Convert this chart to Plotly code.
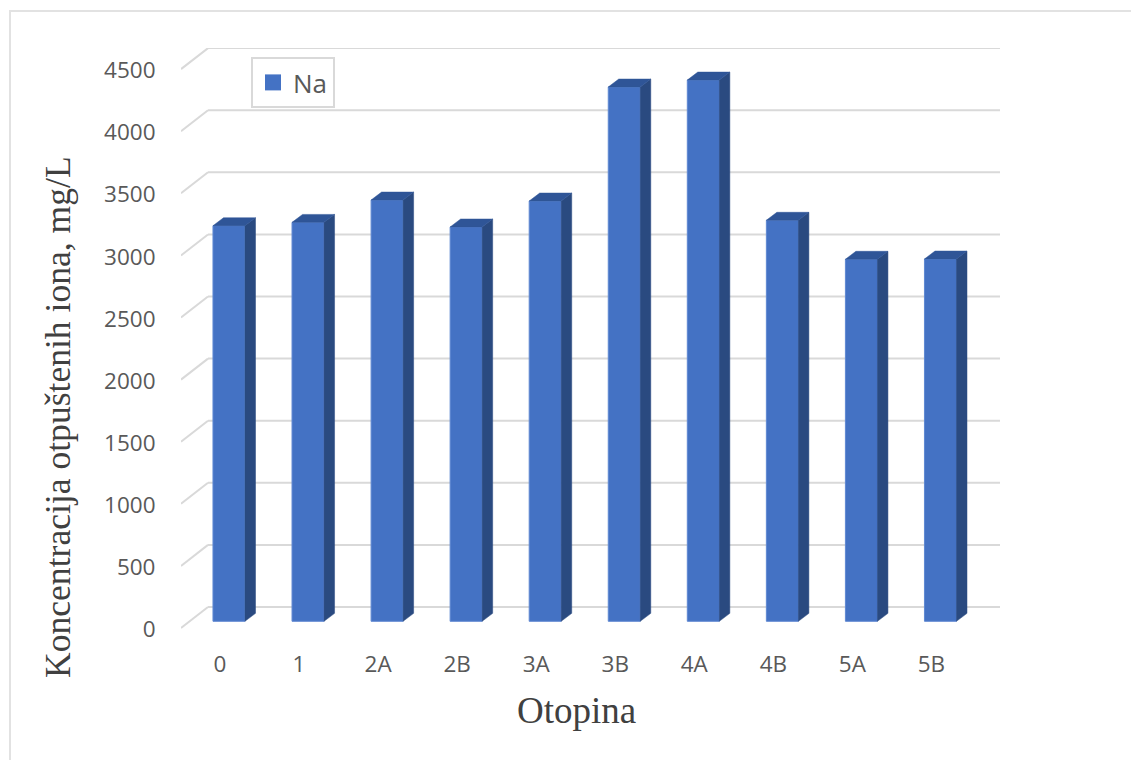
import plotly.graph_objects as go

categories = ["0", "1", "2A", "2B", "3A", "3B", "4A", "4B", "5A", "5B"]
na_values = [3185, 3212, 3392, 3175, 3384, 4302, 4358, 3229, 2915, 2917]
y_ticks = [0, 500, 1000, 1500, 2000, 2500, 3000, 3500, 4000, 4500]

W, H = 1131, 760
L, R, T, B = 181, 131, 48, 130
X_RANGE = [-0.607, 9.753]
Y_RANGE = [-16.1, 4670]

# pseudo-3D geometry, in axis units
BAR_W = 0.405
BAR_LIFT = 54
BAR_DX = 0.133
BAR_DY = 64
WALL_DX = 0.3416
WALL_DY = 169
TICK_SHIFT = -0.114
LABEL_SHIFT = -10

idx = list(range(len(categories)))
BLUE, SIDE, TOP = "#4472c4", "#2a4a80", "#2f5597"
GRID = "#d9d9d9"

side_x, side_y, top_x, top_y = [], [], [], []
for i, v in zip(idx, na_values):
    l, r = i - BAR_W / 2, i + BAR_W / 2
    y0, y1 = BAR_LIFT, BAR_LIFT + v
    side_x += [r, r + BAR_DX, r + BAR_DX, r, r, None]
    side_y += [y0, y0 + BAR_DY, y1 + BAR_DY, y1, y0, None]
    top_x += [l, r, r + BAR_DX, l + BAR_DX, l, None]
    top_y += [y1, y1, y1 + BAR_DY, y1 + BAR_DY, y1, None]

shapes = []
for t in y_ticks:
    shapes.append(dict(type="line", layer="below", xref="x", yref="y",
                       x0=X_RANGE[0], y0=t, x1=X_RANGE[0] + WALL_DX, y1=t + WALL_DY,
                       line=dict(color=GRID, width=2)))
    shapes.append(dict(type="line", layer="below", xref="x", yref="y",
                       x0=X_RANGE[0] + WALL_DX, y0=t + WALL_DY, x1=X_RANGE[1], y1=t + WALL_DY,
                       line=dict(color=GRID, width=2)))
plot_w, plot_h = W - L - R, H - T - B
bx = (10 - L) / plot_w
by = (H - B - 11) / plot_h
shapes.append(dict(type="path", xref="paper", yref="paper", layer="below",
                   path=f"M {bx},{(H - B - H) / plot_h} L {bx},{by} L {(W - L) / plot_w},{by}",
                   line=dict(color="#e2e2e2", width=2)))

fig = go.Figure()
fig.add_trace(go.Bar(x=idx, y=na_values, base=BAR_LIFT, width=BAR_W,
                     marker=dict(color=BLUE, line=dict(color="#5f88d2", width=1)),
                     showlegend=False, name="Na"))
fig.add_trace(go.Scatter(x=side_x, y=side_y, mode="lines", fill="toself", fillcolor=SIDE,
                         line=dict(color=SIDE, width=0.5), showlegend=False, hoverinfo="skip"))
fig.add_trace(go.Scatter(x=top_x, y=top_y, mode="lines", fill="toself", fillcolor=TOP,
                         line=dict(color=TOP, width=0.5), showlegend=False, hoverinfo="skip"))
fig.add_trace(go.Scatter(x=[None], y=[None], mode="markers", name="Na",
                         marker=dict(symbol="square", size=18, color=BLUE)))

annotations = [
    dict(text="Otopina", xref="paper", yref="paper", x=(576.5 - L) / plot_w, y=(H - B - 710) / plot_h,
         xanchor="center", yanchor="middle", showarrow=False,
         font=dict(family="Liberation Serif", size=37, color="#404040")),
    dict(text="Koncentracija otpuštenih iona, mg/L", xref="paper", yref="paper",
         x=(58 - L) / plot_w, y=(H - B - 417) / plot_h, textangle=-90,
         xanchor="center", yanchor="middle", showarrow=False,
         font=dict(family="Liberation Serif", size=35.6, color="#404040")),
]

fig.update_layout(
    width=W, height=H,
    margin=dict(l=L, r=R, t=T, b=B, autoexpand=False),
    paper_bgcolor="white", plot_bgcolor="rgba(0,0,0,0)",
    font=dict(family="Open Sans", color="#595959", size=22.5),
    shapes=shapes,
    annotations=annotations,
    legend=dict(x=(251 - L) / plot_w, y=(H - B - 57) / plot_h, xanchor="left", yanchor="top",
                bgcolor="white", bordercolor="#d9d9d9", borderwidth=2,
                font=dict(size=26), itemsizing="trace", itemwidth=30),
    xaxis=dict(range=X_RANGE, showgrid=False, zeroline=False, showline=False,
               tickmode="array", tickvals=[i + TICK_SHIFT for i in idx], ticktext=categories,
               ticks="outside", ticklen=14, tickcolor="rgba(0,0,0,0)"),
    yaxis=dict(range=Y_RANGE, showgrid=False, zeroline=False, showline=False,
               tickmode="array", tickvals=[t + LABEL_SHIFT for t in y_ticks],
               ticktext=[str(t) for t in y_ticks],
               ticks="outside", ticklen=20, tickcolor="rgba(0,0,0,0)"),
)

fig.write_html("out.html", config=dict(displayModeBar=False),
               post_script="document.body.style.margin='0';document.body.style.overflow='hidden';")
